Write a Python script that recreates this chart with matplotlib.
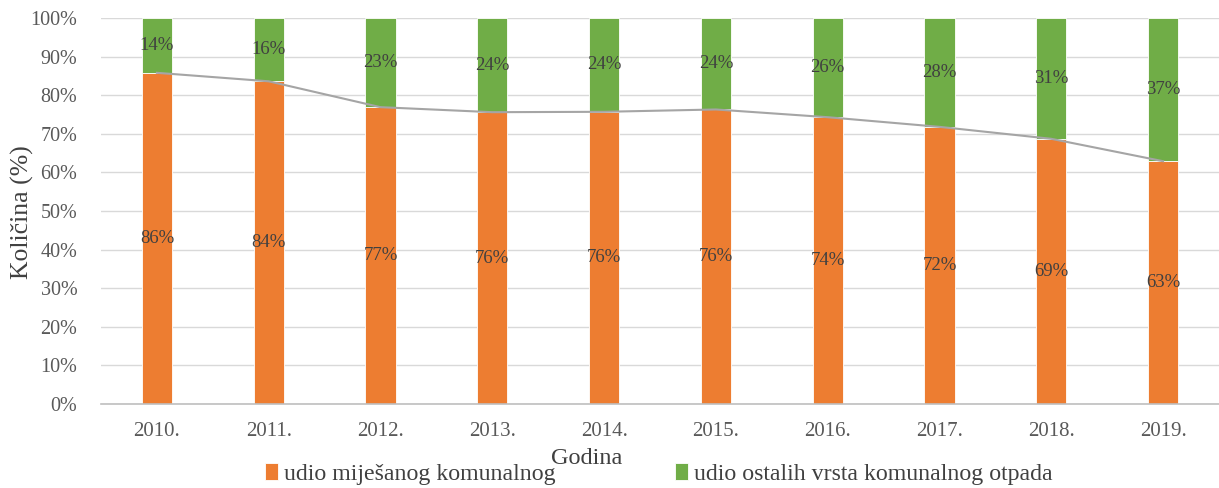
import matplotlib.pyplot as plt
import numpy as np

godine = ["2010.", "2011.", "2012.", "2013.", "2014.", "2015.", "2016.", "2017.", "2018.", "2019."]
mijesani = [85.8, 83.6, 76.9, 75.6, 75.7, 76.3, 74.3, 71.8, 68.7, 62.9]
ostali = [100 - v for v in mijesani]

plt.rcParams["font.family"] = ["Liberation Serif", "DejaVu Serif"]

W, H = 1219, 488
fig = plt.figure(figsize=(W / 100, H / 100), dpi=100)
ax = fig.add_axes([101 / W, 1 - 404 / H, 1118 / W, 386 / H])

x = np.arange(len(godine))
w = 0.27
orange = "#ed7d31"
green = "#70ad47"

ax.bar(x, mijesani, w, color=orange, edgecolor="white", linewidth=0.6, zorder=2,
       label="udio miješanog komunalnog")
ax.bar(x, ostali, w, bottom=mijesani, color=green, edgecolor="white", linewidth=0.6, zorder=2,
       label="udio ostalih vrsta komunalnog otpada")
ax.plot(x, mijesani, color="#a5a5a5", linewidth=1.5, zorder=3)

for i in range(len(godine)):
    ax.text(x[i], mijesani[i] / 2, f"{round(mijesani[i])}%", ha="center", va="center",
            fontsize=13.5, color="#404040", zorder=4)
    ax.text(x[i], mijesani[i] + ostali[i] / 2, f"{round(ostali[i])}%", ha="center", va="center",
            fontsize=13.5, color="#404040", zorder=4)

ax.set_xlim(-0.5, len(godine) - 0.5)
ax.set_ylim(0, 100)
ax.set_yticks(range(0, 101, 10))
ax.set_yticklabels([f"{v}%" for v in range(0, 101, 10)], fontsize=14.5, color="#595959")
ax.set_xticks(x)
ax.set_xticklabels(godine, fontsize=15, color="#595959")
ax.tick_params(axis="x", length=0, pad=13)
ax.tick_params(axis="y", length=0, pad=17)
ax.grid(axis="y", color="#d9d9d9", linewidth=1, zorder=0)
for s in ["top", "right", "left"]:
    ax.spines[s].set_visible(False)
ax.spines["bottom"].set_color("#bfbfbf")
ax.spines["bottom"].set_linewidth(1.2)

fig.text(22 / W, 1 - 212 / H, "Količina (%)", fontsize=18.5, color="#404040",
         rotation=90, ha="center", va="center")
fig.text(587 / W, 1 - 458 / H, "Godina", fontsize=17.5, color="#404040", ha="center", va="center")

fig.legend(*ax.get_legend_handles_labels(), loc="center", bbox_to_anchor=(659 / W, 1 - 474 / H),
           ncol=2, frameon=False, fontsize=17.2, handlelength=0.55, handleheight=0.75,
           handletextpad=0.25, columnspacing=5.0, labelcolor="#404040",
           borderpad=0, borderaxespad=0)

fig.savefig("out.png", dpi=100)
